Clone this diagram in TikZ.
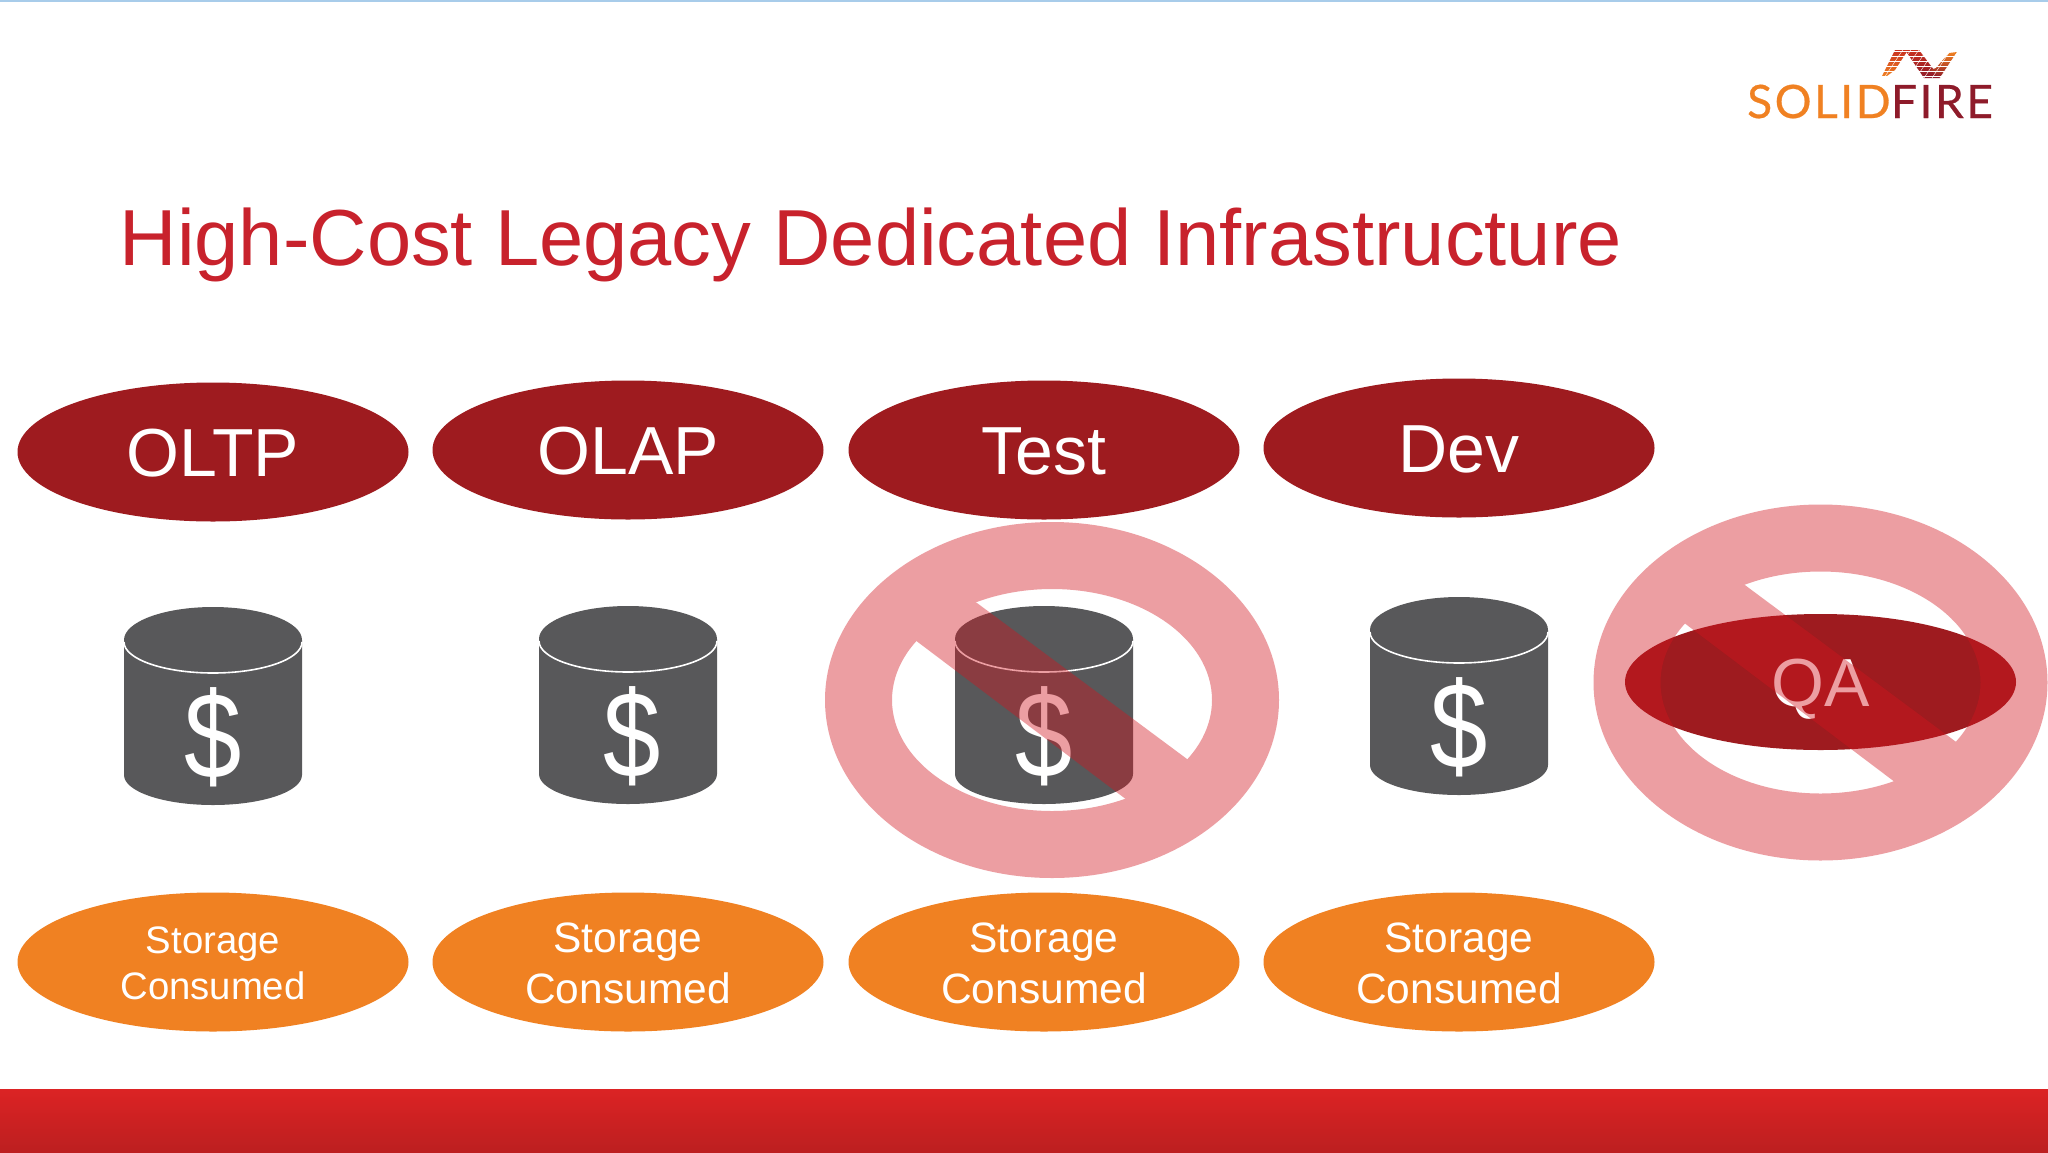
\documentclass[tikz,border=0pt]{standalone}
\usepackage{fontspec}
\setmainfont{Liberation Sans}
\newfontfamily\logofont[FakeBold=.6,LetterSpace=5.5]{Lato}
\usetikzlibrary{shapes.geometric}
\definecolor{appred}{HTML}{9E1B1F}
\definecolor{stgorange}{HTML}{F08122}
\definecolor{cangrey}{HTML}{58585A}
\definecolor{titlered}{HTML}{C8222C}
\definecolor{signred}{RGB}{210,20,30}
\definecolor{logodark}{HTML}{8E1B2A}
\definecolor{logored}{HTML}{C8301F}
\definecolor{bartop}{HTML}{DC2324}
\definecolor{barbottom}{HTML}{BC1F20}
\definecolor{topline}{HTML}{A8CCEA}
\tikzstyle{app} = [ellipse, minimum width=391pt, minimum height=139pt, inner sep=0pt, fill=appred, text=white, text height=48.5pt, text depth=0pt, font=\fontsize{68}{70}\selectfont]
\tikzstyle{stg} = [ellipse, minimum width=391pt, minimum height=139pt, inner sep=0pt, fill=stgorange, text=white, align=center, font=\fontsize{42.5}{51}\selectfont]
\tikzstyle{stgsmall} = [stg, font=\fontsize{38.3}{46}\selectfont]
\tikzstyle{dollar} = [text=white, inner sep=0pt, font=\fontsize{117}{117}\selectfont]
\newcommand{\can}[4]{
	\fill[cangrey] (#1-89,#2+33) arc (180:360:89 and 33) -- (#1+89,#2+168) arc (0:180:89 and 30) -- cycle;
	\draw[white, line width=1.6pt] (#1-89,#2+35) arc (180:0:89 and 31);
	\node[dollar] (#3) at (#1+#4,#2+130) {\scalebox{.88}[1.05]{\$}};
}
\newcommand{\nosign}[2]{
	\begin{scope}[shift={(#1,#2)}, transparency group, opacity=.41]
		\fill[signred, even odd rule] (0,0) ellipse (227 and 178) (0,0) ellipse (160 and 111);
		\fill[signred] (-135,-130) -- (-75,-97) -- (170,85) -- (135,130) -- (75,100) -- (-170,-85) -- cycle;
	\end{scope}
}

\begin{document}
\begin{tikzpicture}[x=1pt, y=-1pt]
	\useasboundingbox (0,0) rectangle (2048,1152);
	\fill[white] (0,0) rectangle (2048,1152);
	\fill[topline] (0,0) rectangle (2048,1.5);
	\shade[top color=bartop, bottom color=barbottom] (0,1089) rectangle (2048,1152);
	% logo
	\node[anchor=base west, inner sep=0pt, text=stgorange, font=\logofont\fontsize{46}{46}\selectfont] (solid) at (1747,118) {SOLID};
	\node[anchor=base west, inner sep=0pt, text=logodark, font=\logofont\fontsize{46}{46}\selectfont] (fire) at (solid.base east) {FIRE};
	\shade[top color=logored, bottom color=stgorange] (1882,76) -- (1895,50) -- (1908,50) -- (1895,70) -- (1887,76) -- cycle;
	\shade[top color=logored, bottom color=logodark] (1905,50) -- (1919,50) -- (1940,78) -- (1924,78) -- cycle;
	\shade[top color=stgorange, bottom color=logodark] (1940,78) -- (1957,52) -- (1949,53) -- (1941,62) -- (1936,68) -- (1930,70) -- cycle;
	\foreach \i in {0,...,5}
		\draw[white, line width=.4pt] (1880,51+5*\i) -- (1960,51+5*\i);
	\foreach \i in {0,...,8}
		\draw[white, line width=.4pt] (1884+8*\i,78) -- (1904+8*\i,48);
	% title
	\node[anchor=base west, inner sep=0pt, text=titlered, font=\fontsize{79.5}{80}\selectfont] (title) at (119.5,265) {High-Cost Legacy Dedicated Infrastructure};
	% top row
	\node[app] (oltp) at (213,452) {OLTP};
	\node[app] (olap) at (628,450) {OLAP};
	\node[app] (test) at (1044,450) {Test};
	\node[app] (dev) at (1459,448) {Dev};
	\node[app, minimum height=136pt] (qa) at (1820.5,682) {QA};
	% cans
	\can{213}{607}{dollara}{0}
	\can{628}{606}{dollarb}{4}
	\can{1044}{606}{dollarc}{0}
	\can{1459}{597}{dollard}{0}
	% bottom row
	\node[stgsmall] (stga) at (213,962) {\rule{0pt}{30pt}Storage\\Consumed};
	\node[stg] (stgb) at (628,962) {\rule{0pt}{33pt}Storage\\Consumed};
	\node[stg] (stgc) at (1044,962) {\rule{0pt}{33pt}Storage\\Consumed};
	\node[stg] (stgd) at (1459,962) {\rule{0pt}{33pt}Storage\\Consumed};
	% signs
	\nosign{1052}{700}
	\nosign{1820.5}{682.5}
\end{tikzpicture}
\end{document}
